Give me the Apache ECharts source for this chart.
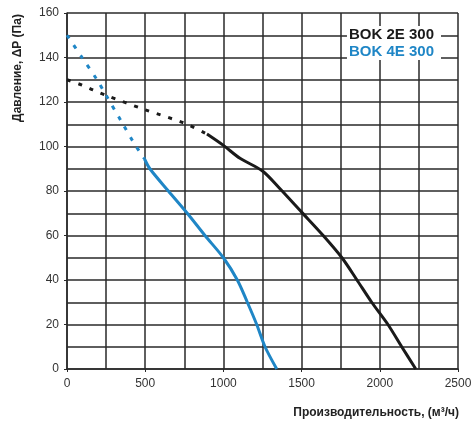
<!DOCTYPE html>
<html>
<head>
<meta charset="utf-8">
<script src="https://cdn.jsdelivr.net/npm/echarts@6/dist/echarts.min.js"></script>
<style>html,body{margin:0;padding:0;background:#fff}#c{width:476px;height:430px}</style>
</head>
<body>
<div id="c"></div>
<script>
var name2E = 'BOK 2E 300';
var name4E = 'BOK 4E 300';
var xTitle = 'Производительность, (м³/ч)';
var yTitle = 'Давление, ΔP (Па)';
// [flow m3/h, pressure Pa]
var black2EDotted = [[0,130],[96,127.6],[166,125.4],[250,123],[500,116.5],[750,110.5],[895,105.6]];
var black2ESolid = [[895,105.6],[1000,100.5],[1106,94.7],[1250,89],[1362,81],[1500,70.5],[1638,60],[1758,50],[1854,40],[1948,30],[2052,20],[2140,10],[2230,0]];
var blue4EDotted = [[0,150],[96,140],[192,130],[250,123],[350,111],[424,102],[495,94.5]];
var blue4ESolid = [[495,94.5],[530,90],[648,80],[769,70],[882,60],[1000,50],[1089,40],[1153,30],[1213,20],[1266,10],[1341,0]];

var BLACK = '#1a1a1a', BLUE = '#1f86c6', GRID = '#2a2a2a';
var chart = echarts.init(document.getElementById('c'));
chart.setOption({
  backgroundColor: '#fff',
  animation: false,
  grid: {left: 67, right: 18, top: 13, bottom: 61},
  xAxis: {
    type: 'value', min: 0, max: 2500, interval: 500,
    axisLine: {show: true, lineStyle: {color: GRID, width: 1.5}},
    axisTick: {show: true, length: 3, lineStyle: {color: GRID}},
    axisLabel: {color: '#333', fontFamily: 'Liberation Sans, Arial', fontSize: 12, margin: 9,
      formatter: function (v) { return String(v); }},
    splitLine: {show: true, lineStyle: {color: GRID, width: 1.5}},
    minorTick: {show: false, splitNumber: 2},
    minorSplitLine: {show: true, lineStyle: {color: GRID, width: 1.5}}
  },
  yAxis: {
    type: 'value', min: 0, max: 160, interval: 20,
    axisLine: {show: true, lineStyle: {color: GRID, width: 1.5}},
    axisTick: {show: true, length: 3, lineStyle: {color: GRID}},
    axisLabel: {color: '#333', fontFamily: 'Liberation Sans, Arial', fontSize: 12, margin: 8},
    splitLine: {show: true, lineStyle: {color: GRID, width: 1.5}},
    minorTick: {show: false, splitNumber: 2},
    minorSplitLine: {show: true, lineStyle: {color: GRID, width: 1.5}}
  },
  legend: {
    show: true,
    data: [{name: name2E, textStyle: {color: BLACK}}, {name: name4E, textStyle: {color: BLUE}}],
    icon: 'none', itemWidth: 0, itemHeight: 0, itemGap: 2,
    orient: 'vertical', right: 35, top: 26, align: 'right',
    backgroundColor: '#fff', padding: [1, 2, 1, 2],
    textStyle: {fontFamily: 'Liberation Sans, Arial', fontSize: 15, fontWeight: 'bold', padding: 0}
  },
  graphic: [
    {type: 'text', x: 18, y: 68, rotation: Math.PI / 2,
     style: {text: yTitle, font: 'bold 12px "Liberation Sans", Arial', fill: '#222', textAlign: 'center', textVerticalAlign: 'middle'}},
    {type: 'text', x: 459, y: 413,
     style: {text: xTitle, font: 'bold 12px "Liberation Sans", Arial', fill: '#222', textAlign: 'right', textVerticalAlign: 'middle'}}
  ],
  series: [
    {name: name2E, type: 'line', data: black2EDotted, showSymbol: false, smooth: 0.3, z: 3,
     lineStyle: {color: BLACK, width: 3, type: [4, 8]}, itemStyle: {color: BLACK}},
    {name: name2E, type: 'line', data: black2ESolid, showSymbol: false, smooth: 0.3, z: 3,
     lineStyle: {color: BLACK, width: 3}, itemStyle: {color: BLACK}},
    {name: name4E, type: 'line', data: blue4EDotted, showSymbol: false, smooth: 0.3, z: 3,
     lineStyle: {color: BLUE, width: 3, type: [4, 8]}, itemStyle: {color: BLUE}},
    {name: name4E, type: 'line', data: blue4ESolid, showSymbol: false, smooth: 0.3, z: 3,
     lineStyle: {color: BLUE, width: 3}, itemStyle: {color: BLUE}}
  ]
});
</script>
</body>
</html>
